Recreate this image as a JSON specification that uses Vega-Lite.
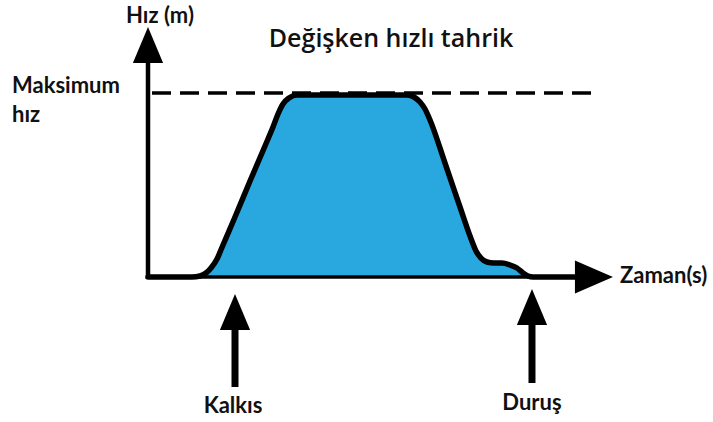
{
  "$schema": "https://vega.github.io/schema/vega-lite/v6.json",
  "width": 713,
  "height": 422,
  "padding": 0,
  "autosize": {"type": "none"},
  "background": "white",
  "config": {"view": {"stroke": null}},
  "datasets": {
    "curve": [
      {"t": 0, "v": 0}, {"t": 9.46, "v": 0}, {"t": 11.18, "v": 0.55}, {"t": 12.47, "v": 2.2},
      {"t": 13.55, "v": 4.95}, {"t": 14.84, "v": 9.89}, {"t": 16.13, "v": 17.58}, {"t": 18.71, "v": 32.97},
      {"t": 21.94, "v": 52.75}, {"t": 25.16, "v": 71.98}, {"t": 26.88, "v": 82.42}, {"t": 27.96, "v": 89.56},
      {"t": 29.03, "v": 95.05}, {"t": 30.32, "v": 98.35}, {"t": 32.04, "v": 100}, {"t": 55.7, "v": 100},
      {"t": 57.2, "v": 98.9}, {"t": 58.49, "v": 96.15}, {"t": 59.57, "v": 92.31}, {"t": 60.65, "v": 86.26},
      {"t": 63.87, "v": 62.64}, {"t": 67.1, "v": 38.46}, {"t": 69.25, "v": 22.53}, {"t": 70.54, "v": 14.29},
      {"t": 71.61, "v": 10.44}, {"t": 72.9, "v": 8.24}, {"t": 74.41, "v": 7.69}, {"t": 76.13, "v": 7.69},
      {"t": 77.85, "v": 6.59}, {"t": 79.35, "v": 4.95}, {"t": 80.65, "v": 2.2}, {"t": 81.72, "v": 0.55},
      {"t": 82.8, "v": 0}, {"t": 91.83, "v": 0}
    ],
    "yaxis": [{"t": 0, "v": -1.1, "t2": 0, "v2": 118.13}],
    "xaxis": [{"t": -0.43, "v": 0, "t2": 92.9, "v2": 0}],
    "shafts": [
      {"t": 18.71, "v": -28.02, "t2": 18.71, "v2": -60.44},
      {"t": 82.58, "v": -26.37, "t2": 82.58, "v2": -58.24}
    ],
    "max": [{"t": 0.86, "t2": 95.48, "v": 101.1}],
    "uparrows": [
      {"name": "Hız", "t": 0, "v": 127.47},
      {"name": "Kalkış", "t": 18.71, "v": -19.23},
      {"name": "Duruş", "t": 82.58, "v": -16.48}
    ],
    "rightarrow": [{"name": "Zaman", "t": 95.91, "v": 0}],
    "title": [{"t": 52.26, "v": 126.37, "label": "Değişken hızlı tahrik"}],
    "centerlabels": [
      {"t": 2.58, "v": 139.56, "label": "Hız (m)"},
      {"t": 18.28, "v": -74.73, "label": "Kalkıs"},
      {"t": 82.58, "v": -73.08, "label": "Duruş"}
    ],
    "leftlabels": [
      {"t": -29.25, "v": 101.1, "label": "Maksimum"},
      {"t": -29.25, "v": 85.16, "label": "hız"},
      {"t": 101.51, "v": -3.3, "label": "Zaman(s)"}
    ]
  },
  "encoding": {
    "x": {"field": "t", "type": "quantitative", "scale": {"domain": [-31.83, 121.51], "nice": false, "zero": false}, "axis": null},
    "y": {"field": "v", "type": "quantitative", "scale": {"domain": [-79.67, 152.2], "nice": false, "zero": false}, "axis": null}
  },
  "layer": [
    {
      "data": {"name": "curve"},
      "mark": {"type": "area", "interpolate": "monotone", "color": "#29a8e0"},
      "encoding": {"y2": {"datum": 0}}
    },
    {
      "data": {"name": "xaxis"},
      "mark": {"type": "rule", "color": "black", "strokeWidth": 3.5},
      "encoding": {"x2": {"field": "t2"}, "y2": {"field": "v2"}}
    },
    {
      "data": {"name": "yaxis"},
      "mark": {"type": "rule", "color": "black", "strokeWidth": 4.5},
      "encoding": {"x2": {"field": "t2"}, "y2": {"field": "v2"}}
    },
    {
      "data": {"name": "max"},
      "mark": {"type": "rule", "color": "black", "strokeWidth": 3.5, "strokeDash": [19, 9]},
      "encoding": {"x2": {"field": "t2"}}
    },
    {
      "data": {"name": "curve"},
      "mark": {"type": "line", "interpolate": "monotone", "color": "black", "strokeWidth": 5.5, "strokeJoin": "round", "strokeCap": "round"},
      "encoding": {}
    },
    {
      "data": {"name": "shafts"},
      "mark": {"type": "rule", "color": "black", "strokeWidth": 7},
      "encoding": {"x2": {"field": "t2"}, "y2": {"field": "v2"}}
    },
    {
      "data": {"name": "uparrows"},
      "mark": {"type": "point", "filled": true, "color": "black", "opacity": 1, "strokeWidth": 0, "shape": "M0,-1L0.84,1L-0.84,1Z", "size": 1296},
      "encoding": {}
    },
    {
      "data": {"name": "rightarrow"},
      "mark": {"type": "point", "filled": true, "color": "black", "opacity": 1, "strokeWidth": 0, "shape": "M1,0L-1,-0.87L-1,0.87Z", "size": 1444},
      "encoding": {}
    },
    {
      "data": {"name": "title"},
      "mark": {"type": "text", "font": "Open Sans", "fontSize": 25, "fontWeight": 600, "color": "#111", "align": "center", "baseline": "alphabetic"},
      "encoding": {"text": {"field": "label"}}
    },
    {
      "data": {"name": "centerlabels"},
      "mark": {"type": "text", "font": "Lato", "fontSize": 22, "fontWeight": "bold", "color": "#111", "align": "center", "baseline": "alphabetic"},
      "encoding": {"text": {"field": "label"}}
    },
    {
      "data": {"name": "leftlabels"},
      "mark": {"type": "text", "font": "Lato", "fontSize": 22, "fontWeight": "bold", "color": "#111", "align": "left", "baseline": "alphabetic"},
      "encoding": {"text": {"field": "label"}}
    }
  ]
}
